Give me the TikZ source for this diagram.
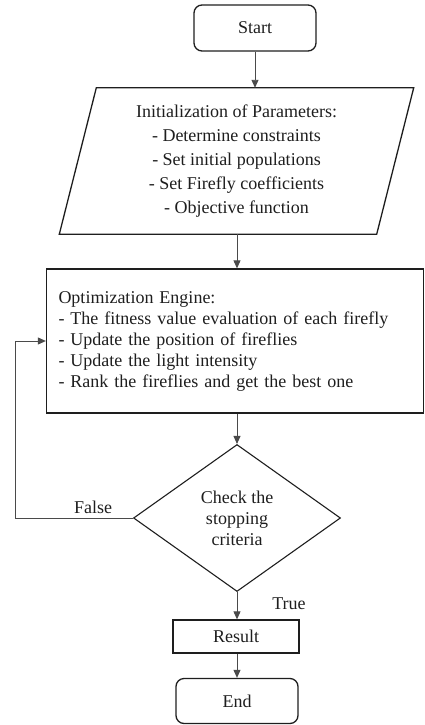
\documentclass[tikz,border=0pt]{standalone}
\usepackage{fontspec}
\setmainfont{Liberation Serif}
\usetikzlibrary{shapes.geometric,arrows.meta}
\definecolor{ink}{HTML}{1E1E1E}
\definecolor{wire}{HTML}{4A4A4A}
\tikzset{
  base/.style={text=ink, font=\fontsize{18}{21}\selectfont, inner sep=0pt},
  termbox/.style={base, draw=ink, line width=1.3pt, rounded corners=8pt},
  procbox/.style={base, draw=ink, line width=1.3pt},
  decbox/.style={base, diamond, draw=ink, line width=1.1pt, align=center},
  arr/.style={draw=wire, line width=0.9pt, -{Triangle[length=8pt,width=7pt]}},
  lbl/.style={text=ink, font=\fontsize{18}{21}\selectfont, inner sep=0pt},
}
\begin{document}
\begin{tikzpicture}[x=1pt,y=-1pt]
\useasboundingbox (0,0) rectangle (425,725);

\node[termbox, minimum width=122pt, minimum height=46pt] (start) at (255,28) {Start};

\node[base, minimum width=317pt, minimum height=146pt, align=center,
      font=\fontsize{18}{24}\selectfont] (init) at (236.5,161)
  {Initialization of Parameters:\\- Determine constraints\\- Set initial populations\\- Set Firefly coefficients\\- Objective function};
\draw[draw=ink, line width=1.3pt]
  ([xshift=18.5pt]init.north west) -- ([xshift=18.5pt]init.north east)
  -- ([xshift=-18.5pt]init.south east) -- ([xshift=-18.5pt]init.south west) -- cycle;

\node[procbox, minimum width=377pt, minimum height=144pt, align=left,
      text width=353pt] (opt) at (235,341)
  {Optimization Engine:\\- The fitness value evaluation of each firefly\\- Update the position of fireflies\\- Update the light intensity\\- Rank the fireflies and get the best one};

\node[decbox, minimum width=207pt, minimum height=147pt] (dec) at (237,518)
  {Check the\\stopping\\criteria};

\node[procbox, minimum width=126pt, minimum height=33pt] (res) at (236,636.5) {Result};

\node[termbox, minimum width=122pt, minimum height=45pt] (end) at (237,701) {End};

\coordinate (lp) at (15,0);

\draw[arr] (start.south) -- (start.south |- init.north);
\draw[arr] (init.south -| dec.north) -- (dec.north |- opt.north);
\draw[arr] (opt.south -| dec.north) -- (dec.north);
\draw[arr] (dec.south) -- (dec.south |- res.north);
\draw[arr] (res.south -| end.north) -- (end.north);
\draw[arr] (dec.west) -- (dec.west -| lp) |- (opt.west);

\node[lbl] (false) at (93,507) {False};
\node[lbl] (true) at (289,604) {True};
\end{tikzpicture}
\end{document}
